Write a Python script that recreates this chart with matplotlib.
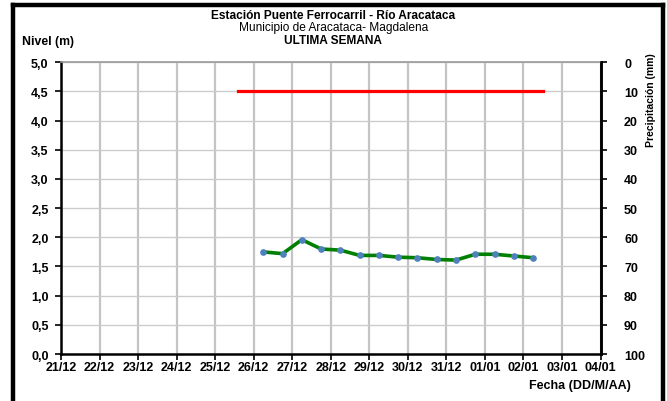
import matplotlib
matplotlib.use("Agg")
import matplotlib.pyplot as plt
import matplotlib.dates as mdates
from matplotlib.lines import Line2D
import pandas as pd

plt.rcParams['font.family'] = ['Liberation Sans', 'DejaVu Sans']

title1 = "Estación Puente Ferrocarril - Río Aracataca"
title2 = "Municipio de Aracataca- Magdalena"
title3 = "ULTIMA SEMANA"

level_times = ["2015-12-26 06:00", "2015-12-26 18:00", "2015-12-27 06:00", "2015-12-27 18:00",
               "2015-12-28 06:00", "2015-12-28 18:00", "2015-12-29 06:00", "2015-12-29 18:00",
               "2015-12-30 06:00", "2015-12-30 18:00", "2015-12-31 06:00", "2015-12-31 18:00",
               "2016-01-01 06:00", "2016-01-01 18:00", "2016-01-02 06:00"]
level_values = [1.75, 1.72, 1.96, 1.80, 1.78, 1.69, 1.69, 1.66, 1.65, 1.62, 1.61, 1.71, 1.71, 1.68, 1.65]

alert_times = ["2015-12-25 14:30", "2016-01-02 12:00"]
alert_values = [4.5, 4.5]

x_start = "2015-12-21"
x_end = "2016-01-04"

lt = pd.to_datetime(level_times)
at = pd.to_datetime(alert_times)

fig = plt.figure(figsize=(6.67, 4.02), dpi=100)
ax = fig.add_axes([0.0915, 0.1169, 0.8088, 0.7256])

ax.set_xlim(pd.Timestamp(x_start), pd.Timestamp(x_end))
ax.set_ylim(0, 5)
ax.xaxis.set_major_locator(mdates.DayLocator())
ax.xaxis.set_major_formatter(mdates.DateFormatter('%d/%m'))
ax.set_yticks([i * 0.5 for i in range(11)])
ax.set_yticklabels([f"{i*0.5:.1f}".replace('.', ',') for i in range(11)])

ax.grid(axis='x', color='#c4c4c4', linewidth=1.6, zorder=0)
ax.grid(axis='y', color='#cccccc', linewidth=1.0, zorder=0)

ax.plot(at, alert_values, color='#ff0000', linewidth=2.3, zorder=3)
ax.plot(lt, level_values, color='#008000', linewidth=2.6, zorder=3)
ax.plot(lt, level_values, linestyle='none', marker='o', markersize=3.8,
        markerfacecolor='#4f81bd', markeredgecolor='#4f81bd', zorder=4)

for s in ['left', 'bottom', 'right']:
    ax.spines[s].set_color('black')
    ax.spines[s].set_linewidth(1.8)
ax.spines['top'].set_color('#999999')
ax.spines['top'].set_linewidth(1.2)

ax.tick_params(axis='both', direction='out', length=4, width=1.2, labelsize=9)
ax.tick_params(axis='x', pad=1)
ax.tick_params(axis='y', pad=5)
for lab in ax.get_xticklabels() + ax.get_yticklabels():
    lab.set_fontweight('bold')

ax2 = ax.twinx()
ax2.set_ylim(100, 0)
ax2.set_yticks(range(0, 101, 10))
ax2.tick_params(axis='y', direction='out', length=4, width=1.2, labelsize=9, pad=13)
for lab in ax2.get_yticklabels():
    lab.set_fontweight('bold')
for s in ['left', 'bottom', 'top']:
    ax2.spines[s].set_visible(False)
ax2.spines['right'].set_linewidth(1.8)

fig.text(0.5, 1 - 16 / 402, title1, ha='center', va='center', fontsize=8.6, fontweight='bold')
fig.text(0.5, 1 - 28.5 / 402, title2, ha='center', va='center', fontsize=8.6)
fig.text(0.5, 1 - 41.5 / 402, title3, ha='center', va='center', fontsize=8.6, fontweight='bold')
fig.text(22 / 667, 1 - 42 / 402, "Nivel (m)", ha='left', va='center', fontsize=8.8, fontweight='bold')
fig.text(631 / 667, 1 - 386 / 402, "Fecha (DD/M/AA)", ha='right', va='center', fontsize=9, fontweight='bold')
fig.text(651 / 667, 1 - 100 / 402, "Precipitación (mm)", ha='center', va='center', rotation=90,
         fontsize=7.5, fontweight='bold')

# outer frame (left, top, right)
fig.add_artist(Line2D([13 / 667, 13 / 667], [0, 1 - 5.5 / 402], color='black', linewidth=3.2,
                      transform=fig.transFigure, solid_capstyle='projecting'))
fig.add_artist(Line2D([13 / 667, 663 / 667], [1 - 5.5 / 402, 1 - 5.5 / 402], color='black', linewidth=3.2,
                      transform=fig.transFigure, solid_capstyle='projecting'))
fig.add_artist(Line2D([663 / 667, 663 / 667], [0, 1 - 5.5 / 402], color='black', linewidth=3.2,
                      transform=fig.transFigure, solid_capstyle='projecting'))

fig.savefig("out.png", dpi=100)
